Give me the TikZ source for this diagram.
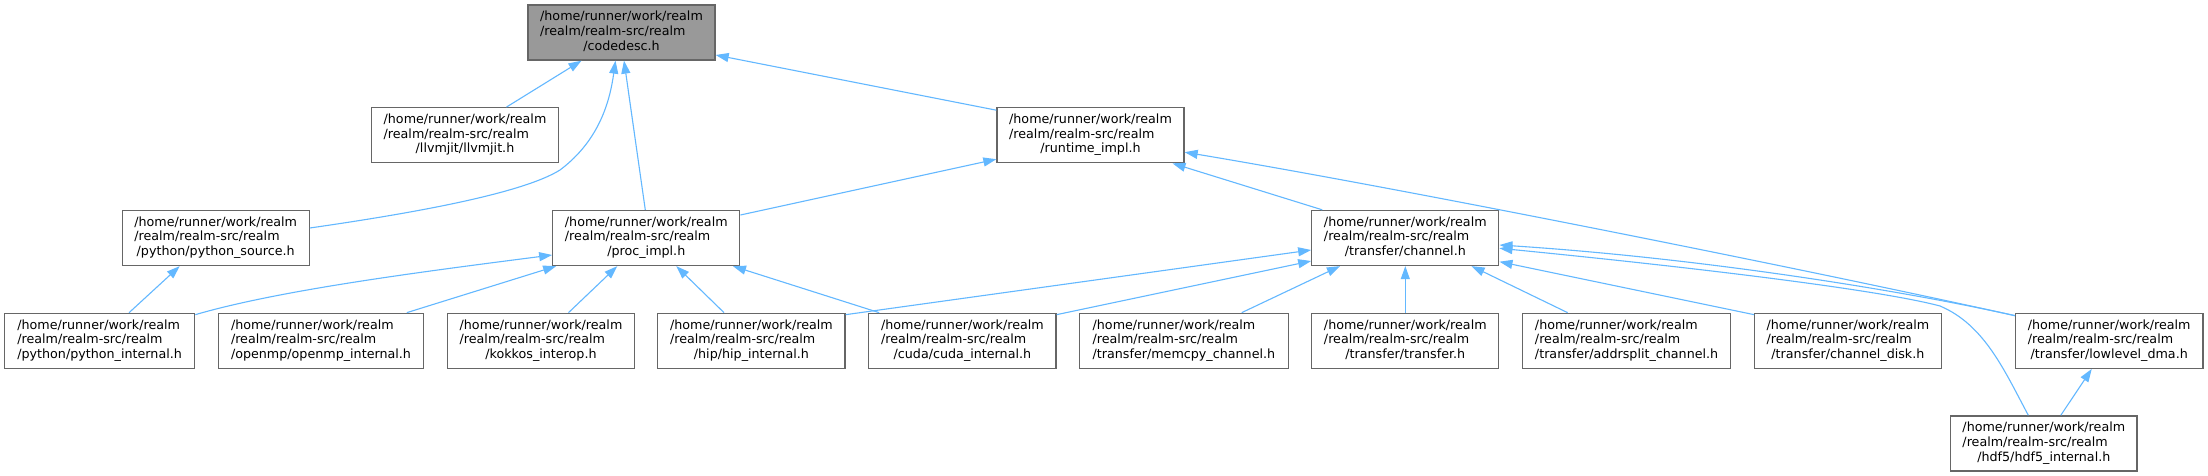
\documentclass[tikz,border=0pt]{standalone}
\usepackage{fontspec}
\setmainfont{DejaVu Sans}
\usetikzlibrary{arrows.meta}
\definecolor{edgeblue}{HTML}{63B8FF}
\definecolor{boxgray}{HTML}{666666}
\definecolor{fillgray}{HTML}{999999}
\newcommand\flbl[1]{\begin{tabular}{@{}l@{}}/home/runner/work/realm\\/realm/realm-src/realm\\\multicolumn{1}{@{}c@{}}{#1}\end{tabular}}
\tikzset{
  box/.style={draw=boxgray, fill=white, line width=1.3pt, minimum height=55pt, inner xsep=3pt, inner ysep=0pt,
    font=\fontsize{12.7pt}{14.7pt}\selectfont, text=black},
  edge/.style={draw=edgeblue, line width=1.1pt, -{Triangle[length=13pt,width=9pt]}}
}
\begin{document}
\begin{tikzpicture}[x=1pt,y=-1pt]
\fill[white] (0,0) rectangle (2208,476);
\useasboundingbox (0,0) rectangle (2208,476);
% nodes
\node[box,fill=fillgray,minimum width=187pt] (codedesc) at (621.5,32.5) {\flbl{/codedesc.h}};
\node[box,minimum width=186.5pt] (llvmjit) at (465,135.2) {\flbl{/llvmjit/llvmjit.h}};
\node[box,minimum width=187pt] (runtime) at (1090.5,135.2) {\flbl{/runtime\_impl.h}};
\node[box,minimum width=187pt] (pysrc) at (215.7,238) {\flbl{/python/python\_source.h}};
\node[box,minimum width=187pt] (proc) at (646.3,238) {\flbl{/proc\_impl.h}};
\node[box,minimum width=187pt] (channel) at (1405.3,238) {\flbl{/transfer/channel.h}};
\node[box,minimum width=190.2pt] (pyint) at (99.6,340.8) {\flbl{/python/python\_internal.h}};
\node[box,minimum width=205.4pt] (openmp) at (321,340.8) {\flbl{/openmp/openmp\_internal.h}};
\node[box,minimum width=187.4pt] (kokkos) at (541,340.8) {\flbl{/kokkos\_interop.h}};
\node[box,minimum width=187.4pt] (hip) at (751.4,340.8) {\flbl{/hip/hip\_internal.h}};
\node[box,minimum width=187.2pt] (cuda) at (962.4,340.8) {\flbl{/cuda/cuda\_internal.h}};
\node[box,minimum width=208.5pt] (memcpy) at (1183.9,340.8) {\flbl{/transfer/memcpy\_channel.h}};
\node[box,minimum width=187pt] (transfer) at (1405.3,340.8) {\flbl{/transfer/transfer.h}};
\node[box,minimum width=208pt] (addrsplit) at (1626.6,340.8) {\flbl{/transfer/addrsplit\_channel.h}};
\node[box,minimum width=186.5pt] (chdisk) at (1847.9,340.8) {\flbl{/transfer/channel\_disk.h}};
\node[box,minimum width=187.3pt] (lldma) at (2109.2,340.8) {\flbl{/transfer/lowlevel\_dma.h}};
\node[box,minimum width=186.4pt] (hdf5) at (2043.8,443.4) {\flbl{/hdf5/hdf5\_internal.h}};
% edges
\draw[edge] ([xshift=41.5pt]llvmjit.north) -- ([xshift=-40pt]codedesc.south);
\draw[edge] ([yshift=10pt]pysrc.east) .. controls (400,215) and (520,195) .. (560,170) .. controls (600,140) and (610,100) .. ([xshift=-6pt]codedesc.south);
\draw[edge] ([xshift=-1pt]proc.north) -- ([xshift=2.5pt]codedesc.south);
\draw[edge] ([yshift=25pt]runtime.west) -- ([yshift=-22.5pt]codedesc.east);
\draw[edge] ([yshift=23pt]proc.east) -- ([yshift=-24pt]runtime.west);
\draw[edge] ([xshift=-83pt]channel.north) -- ([xshift=82pt]runtime.south);
\draw[edge] ([yshift=-3pt]lldma.north west) .. controls (1800,268) and (1400,188) .. ([yshift=-17pt]runtime.east);
\draw[edge] ([xshift=29.5pt]pyint.north) -- ([xshift=-36pt]pysrc.south);
\draw[edge] ([yshift=-2pt]pyint.north east) .. controls (280,290) and (420,272) .. ([yshift=-17pt]proc.west);
\draw[edge] ([xshift=85.8pt]openmp.north) -- ([xshift=4pt]proc.south west);
\draw[edge] ([xshift=27.5pt]kokkos.north) -- ([xshift=-29pt]proc.south);
\draw[edge] ([xshift=-27.4pt]hip.north) -- ([xshift=30pt]proc.south);
\draw[edge] ([xshift=11pt]cuda.north west) -- ([xshift=-7.5pt]proc.south east);
\draw[edge] ([yshift=-2pt]hip.north east) -- ([yshift=-12pt]channel.west);
\draw[edge] ([yshift=-2pt]cuda.north east) -- ([yshift=-23pt]channel.west);
\draw[edge] ([xshift=57.8pt]memcpy.north) -- ([xshift=-65.4pt]channel.south);
\draw[edge] (transfer.north) -- (channel.south);
\draw[edge] ([xshift=-59pt]addrsplit.north) -- ([xshift=66.3pt]channel.south);
\draw[edge] ([yshift=-2pt]chdisk.north west) -- ([yshift=-23.7pt]channel.east);
\draw[edge] ([yshift=-3pt]lldma.north west) .. controls (1900,290) and (1700,258) .. ([yshift=-7pt]channel.east);
\draw[edge] ([xshift=-15.5pt]hdf5.north) .. controls (2005,372) and (1985,325) .. (1940,306) .. controls (1880,290) and (1700,268) .. ([yshift=-10.3pt]channel.east);
\draw[edge] ([xshift=17pt]hdf5.north) -- ([xshift=-17.5pt]lldma.south);
\end{tikzpicture}
\end{document}
